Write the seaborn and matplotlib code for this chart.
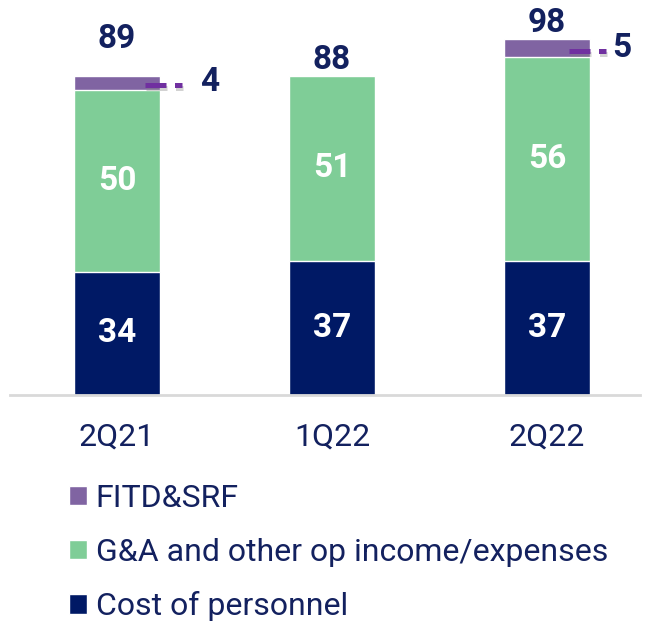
import pandas as pd
import matplotlib.pyplot as plt
import matplotlib.patheffects as pe
import seaborn as sns

quarters = ["2Q21", "1Q22", "2Q22"]
personnel = [34, 37, 37]
ga_other = [50, 51, 56]
fitd_srf = [4, 0, 5]
totals = [89, 88, 98]

navy = "#001965"
green = "#7fcd97"
purple = "#8064a2"
dash_purple = "#7030a0"
text_navy = "#13215f"

sns.set_theme(style="white")
plt.rcParams["font.family"] = ["Roboto", "DejaVu Sans"]

df = pd.DataFrame({"quarter": quarters, "personnel": personnel,
                   "ga": ga_other, "fitd": fitd_srf})
df["lvl2"] = df["personnel"] + df["ga"]
df["lvl3"] = df["lvl2"] + df["fitd"]

fig = plt.figure(figsize=(6.48, 6.22), dpi=100)
ax = fig.add_axes([10 / 648, 1 - 395 / 622, 630 / 648, (395 - 32) / 622])

# stacked by overdrawing cumulative heights
sns.barplot(data=df, x="quarter", y="lvl3", order=quarters, color=purple,
            width=0.40, saturation=1, ax=ax, label="FITD&SRF")
sns.barplot(data=df, x="quarter", y="lvl2", order=quarters, color=green,
            width=0.40, saturation=1, ax=ax, label="G&A and other op income/expenses")
sns.barplot(data=df, x="quarter", y="personnel", order=quarters, color=navy,
            width=0.40, saturation=1, ax=ax, label="Cost of personnel")

handles, labels = ax.get_legend_handles_labels()
if ax.legend_ is not None:
    ax.legend_.remove()

ax.set_xlim(-0.498, 2.433)
ax.set_ylim(0, 100)
ax.set_xlabel("")
ax.set_ylabel("")
ax.set_yticks([])
for s in ["top", "right", "left"]:
    ax.spines[s].set_visible(False)
ax.spines["bottom"].set_color("#d9d9d9")
ax.spines["bottom"].set_linewidth(2)
ax.tick_params(axis="x", length=0, pad=20, labelsize=23, labelcolor=text_navy)

# total labels: the first one sits higher to clear the callout
total_offsets = [20, 5, 5.5]
for i in range(len(quarters)):
    ax.text(i, personnel[i] / 2, str(personnel[i]), ha="center", va="center",
            color="white", fontsize=24, fontweight="bold")
    ax.text(i, personnel[i] + ga_other[i] / 2, str(ga_other[i]), ha="center",
            va="center", color="white", fontsize=24, fontweight="bold")
    ax.annotate(str(totals[i]), (i, df["lvl3"][i]), xytext=(0, total_offsets[i]),
                textcoords="offset points", ha="center", va="baseline",
                color=text_navy, fontsize=24, fontweight="bold", annotation_clip=False)

# callouts for the small FITD&SRF segments
callouts = {0: (0.13, 0.302, 0.386), 2: (0.102, 0.274, 0.302)}
for i, (x0, x1, xt) in callouts.items():
    y = df["lvl2"][i] + fitd_srf[i] * 0.35
    ax.plot([i + x0, i + x1], [y, y], color=dash_purple, lw=3.6, ls=(0, (4.2, 1.7)),
            solid_capstyle="butt", dash_capstyle="butt", clip_on=False,
            path_effects=[pe.SimpleLineShadow(offset=(1, -2), shadow_color="gray", alpha=0.35),
                          pe.Normal()])
    ax.text(i + xt, y + 0.8, str(fitd_srf[i]), ha="left", va="center", color=text_navy,
            fontsize=24, fontweight="bold", clip_on=False)

fig.legend(handles, labels, loc="upper left", bbox_to_anchor=(69 / 648, 1 - 484 / 622),
           frameon=False, fontsize=23, labelcolor=text_navy, handlelength=0.56,
           handleheight=0.56, handletextpad=0.28, labelspacing=0.77, borderaxespad=0,
           borderpad=0)

fig.savefig("out.png", dpi=100)
